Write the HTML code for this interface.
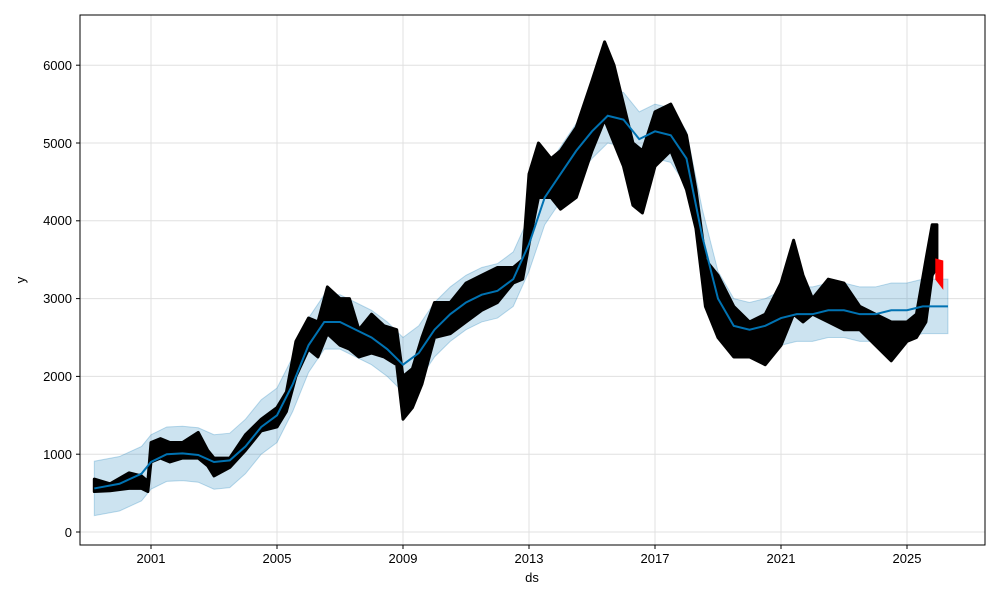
<!DOCTYPE html>
<html><head><meta charset="utf-8"><style>body{margin:0;background:#fff}svg{display:block;font-family:"Liberation Sans","DejaVu Sans",sans-serif}</style></head><body>
<svg width="1000" height="600" viewBox="0 0 1000 600">
<rect width="1000" height="600" fill="#fff"/>
<g stroke="#e0e0e0" stroke-width="1">
<line x1="151" y1="15" x2="151" y2="545"/><line x1="277" y1="15" x2="277" y2="545"/><line x1="403" y1="15" x2="403" y2="545"/><line x1="529" y1="15" x2="529" y2="545"/><line x1="655" y1="15" x2="655" y2="545"/><line x1="781" y1="15" x2="781" y2="545"/><line x1="907" y1="15" x2="907" y2="545"/>
<line x1="80" y1="532" x2="985" y2="532"/><line x1="80" y1="454.2" x2="985" y2="454.2"/><line x1="80" y1="376.4" x2="985" y2="376.4"/><line x1="80" y1="298.6" x2="985" y2="298.6"/><line x1="80" y1="220.8" x2="985" y2="220.8"/><line x1="80" y1="143" x2="985" y2="143"/><line x1="80" y1="65.2" x2="985" y2="65.2"/>
</g>
<g transform="matrix(31.5 0 0 -0.0778 119.5 532)">
<polygon fill="#0072B2" fill-opacity="0.2" stroke="#0072B2" stroke-opacity="0.25" vector-effect="non-scaling-stroke" points="-0.8,210 0,270 0.7,400 1,550 1.5,650 2,660 2.5,640 3,550 3.5,570 4,750 4.5,1000 5,1150 5.5,1550 6,2050 6.5,2350 7,2350 7.5,2250 8,2150 8.5,2000 9,1800 9.5,1950 10,2250 10.5,2450 11,2600 11.5,2700 12,2750 12.5,2900 13,3350 13.5,3950 14,4250 14.5,4550 15,4800 15.5,5000 16,4950 16.5,4700 17,4800 17.5,4750 18,4450 18.5,3450 19,2650 19.5,2300 20,2250 20.5,2300 21,2400 21.5,2450 22,2450 22.5,2500 23,2500 23.5,2450 24,2450 24.5,2500 25,2500 25.5,2550 26.3,2550 26.3,3250 25.5,3250 25,3200 24.5,3200 24,3150 23.5,3150 23,3200 22.5,3200 22,3150 21.5,3150 21,3100 20.5,3000 20,2950 19.5,3000 19,3350 18.5,4150 18,5150 17.5,5450 17,5500 16.5,5400 16,5650 15.5,5700 15,5500 14.5,5250 14,4950 13.5,4650 13,4050 12.5,3600 12,3450 11.5,3400 11,3300 10.5,3150 10,2950 9.5,2650 9,2500 8.5,2700 8,2850 7.5,2950 7,3050 6.5,3050 6,2750 5.5,2250 5,1850 4.5,1700 4,1450 3.5,1270 3,1250 2.5,1340 2,1360 1.5,1350 1,1250 0.7,1100 0,970 -0.8,910"/>
<polygon fill="#000" stroke="#000" stroke-width="3" stroke-linejoin="round" vector-effect="non-scaling-stroke" points="-0.8,680 -0.3,620 0.3,760 0.7,720 0.9,650 1.0,1150 1.3,1200 1.6,1150 2.0,1150 2.5,1280 2.8,1050 3.0,950 3.5,950 4.0,1250 4.5,1450 5.0,1600 5.3,1800 5.6,2450 6.0,2750 6.3,2700 6.6,3150 7.0,3000 7.3,3000 7.6,2600 8.0,2800 8.4,2650 8.8,2600 9.0,2000 9.3,2100 9.6,2500 10.0,2950 10.5,2950 11.0,3200 11.5,3300 12.0,3400 12.5,3400 12.8,3500 13.0,4600 13.3,5000 13.7,4800 14.0,4900 14.5,5200 15.0,5800 15.4,6300 15.7,6000 16.0,5500 16.3,5000 16.6,4900 17.0,5400 17.5,5500 18.0,5100 18.3,4400 18.6,3500 19.0,3300 19.5,2900 20.0,2700 20.5,2800 21.0,3200 21.4,3750 21.7,3300 22.0,3000 22.5,3250 23.0,3200 23.5,2900 24.0,2800 24.5,2700 25.0,2700 25.3,2800 25.6,3500 25.8,3950 25.95,3950 25.95,3400 25.8,3300 25.6,2700 25.3,2500 25.0,2450 24.5,2200 24.0,2400 23.5,2600 23.0,2600 22.5,2700 22.0,2800 21.7,2700 21.4,2800 21.0,2400 20.5,2150 20.0,2250 19.5,2250 19.0,2500 18.6,2900 18.3,3900 18.0,4400 17.5,4900 17.0,4700 16.6,4100 16.3,4200 16.0,4700 15.7,5000 15.4,5300 15.0,4900 14.5,4300 14.0,4150 13.7,4300 13.3,4300 13.0,3700 12.8,3250 12.5,3200 12.0,2950 11.5,2850 11.0,2700 10.5,2550 10.0,2500 9.6,1900 9.3,1600 9.0,1450 8.8,2150 8.4,2250 8.0,2300 7.6,2250 7.3,2350 7.0,2400 6.6,2550 6.3,2250 6.0,2350 5.6,2000 5.3,1550 5.0,1350 4.5,1300 4.0,1050 3.5,830 3.0,720 2.8,850 2.5,950 2.0,950 1.6,900 1.3,950 1.0,900 0.9,520 0.7,560 0.3,560 -0.3,530 -0.8,520"/>
<polygon fill="#f00" stroke="#f00" stroke-width="2" vector-effect="non-scaling-stroke" points="25.93,3500 26.12,3480 26.12,3150 25.93,3250"/>
<polyline fill="none" stroke="#0072B2" stroke-width="2" vector-effect="non-scaling-stroke" points="-0.8,560 0,620 0.7,750 1,900 1.5,1000 2,1010 2.5,990 3,900 3.5,920 4,1100 4.5,1350 5,1500 5.5,1900 6,2400 6.5,2700 7,2700 7.5,2600 8,2500 8.5,2350 9,2150 9.5,2300 10,2600 10.5,2800 11,2950 11.5,3050 12,3100 12.5,3250 13,3700 13.5,4300 14,4600 14.5,4900 15,5150 15.5,5350 16,5300 16.5,5050 17,5150 17.5,5100 18,4800 18.5,3800 19,3000 19.5,2650 20,2600 20.5,2650 21,2750 21.5,2800 22,2800 22.5,2850 23,2850 23.5,2800 24,2800 24.5,2850 25,2850 25.5,2900 26.3,2900"/>
</g>
<rect x="80" y="15" width="905" height="530" fill="none" stroke="#000" stroke-width="1"/>
<g stroke="#000"><line x1="151" y1="545" x2="151" y2="549"/><line x1="277" y1="545" x2="277" y2="549"/><line x1="403" y1="545" x2="403" y2="549"/><line x1="529" y1="545" x2="529" y2="549"/><line x1="655" y1="545" x2="655" y2="549"/><line x1="781" y1="545" x2="781" y2="549"/><line x1="907" y1="545" x2="907" y2="549"/>
<line x1="76" y1="532" x2="80" y2="532"/><line x1="76" y1="454.2" x2="80" y2="454.2"/><line x1="76" y1="376.4" x2="80" y2="376.4"/><line x1="76" y1="298.6" x2="80" y2="298.6"/><line x1="76" y1="220.8" x2="80" y2="220.8"/><line x1="76" y1="143" x2="80" y2="143"/><line x1="76" y1="65.2" x2="80" y2="65.2"/></g>
<g font-size="13" fill="#000" text-anchor="middle"><text x="151" y="563">2001</text><text x="277" y="563">2005</text><text x="403" y="563">2009</text><text x="529" y="563">2013</text><text x="655" y="563">2017</text><text x="781" y="563">2021</text><text x="907" y="563">2025</text><text x="532" y="582">ds</text></g>
<g font-size="13" fill="#000" text-anchor="end"><text x="72" y="537">0</text><text x="72" y="459">1000</text><text x="72" y="381">2000</text><text x="72" y="303">3000</text><text x="72" y="225">4000</text><text x="72" y="148">5000</text><text x="72" y="70">6000</text></g>
<text x="25" y="280" font-size="13" text-anchor="middle" transform="rotate(-90 25 280)">y</text>
</svg>
</body></html>
